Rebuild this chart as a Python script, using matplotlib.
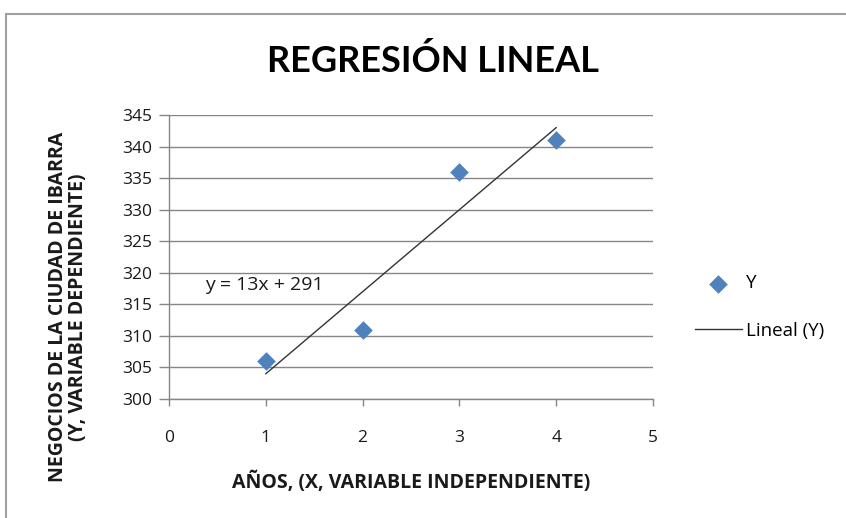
import matplotlib.pyplot as plt
from matplotlib.lines import Line2D
import numpy as np

# datos
anios = [1, 2, 3, 4]
negocios = [306, 311, 336, 341]
pendiente = 13
intercepto = 291
x_ticks = [0, 1, 2, 3, 4, 5]
y_ticks = [300, 305, 310, 315, 320, 325, 330, 335, 340, 345]

plt.rcParams['font.family'] = ['Open Sans', 'DejaVu Sans']

fig = plt.figure(figsize=(8.46, 5.18), dpi=100)
ax = fig.add_axes([169 / 846, 1 - 399 / 518, 484 / 846, 284 / 518])

grid_color = "#868686"
azul = "#4F81BD"
texto = "#1a1a1a"

# marco del area del grafico (solo visible arriba e izquierda)
fig.add_artist(Line2D([6 / 846, 6 / 846], [0, 1 - 14 / 518], color="#A0A0A0", lw=1.5))
fig.add_artist(Line2D([6 / 846, 1], [1 - 14 / 518, 1 - 14 / 518], color="#A0A0A0", lw=1.5))

ax.scatter(anios, negocios, marker="D", s=90, color=azul, zorder=3, label="Y", linewidths=0)

xt = np.array([anios[0], anios[-1]])
ax.plot(xt, pendiente * xt + intercepto, color="#333333", lw=1, zorder=2, label="Lineal (Y)")

ax.text(0.37, 318.0, f"y = {pendiente}x + {intercepto}", fontsize=14, va="center", ha="left", color=texto)

ax.set_xlim(0, 5)
ax.set_ylim(300, 345)
ax.set_xticks(x_ticks)
ax.set_yticks(y_ticks)
ax.grid(axis="y", color=grid_color, lw=1)
ax.set_axisbelow(True)
for s in ["top", "right"]:
    ax.spines[s].set_visible(False)
for s in ["left", "bottom"]:
    ax.spines[s].set_color(grid_color)
    ax.spines[s].set_linewidth(1)
ax.tick_params(axis="both", colors=grid_color, labelcolor=texto, labelsize=12.5, width=1)
ax.tick_params(axis="x", length=5, pad=17)
ax.tick_params(axis="y", length=7, pad=5)

ax.set_xlabel("AÑOS, (X, VARIABLE INDEPENDIENTE)", fontsize=14, fontweight="bold", color=texto, labelpad=19)

# titulo del eje Y colocado como en el original (centrado mas abajo)
fig.text(68 / 846, 1 - 307 / 518, "NEGOCIOS DE LA CIUDAD DE IBARRA\n(Y, VARIABLE DEPENDIENTE)", fontsize=14,
         fontweight="bold", color=texto, rotation=90, ha="center", va="center", linespacing=1.05,
         multialignment="center")

fig.text(433 / 846, 1 - 61 / 518, "REGRESIÓN LINEAL", fontsize=26, fontweight="bold", ha="center", va="center",
         family=["Lato", "DejaVu Sans"])

ax.legend(loc="center left", bbox_to_anchor=(678 / 846, 1 - 307 / 518), bbox_transform=fig.transFigure,
          frameon=False, fontsize=13.5, handlelength=2.5, labelspacing=1.55, handletextpad=0.2)

fig.savefig("out.png", dpi=100)
